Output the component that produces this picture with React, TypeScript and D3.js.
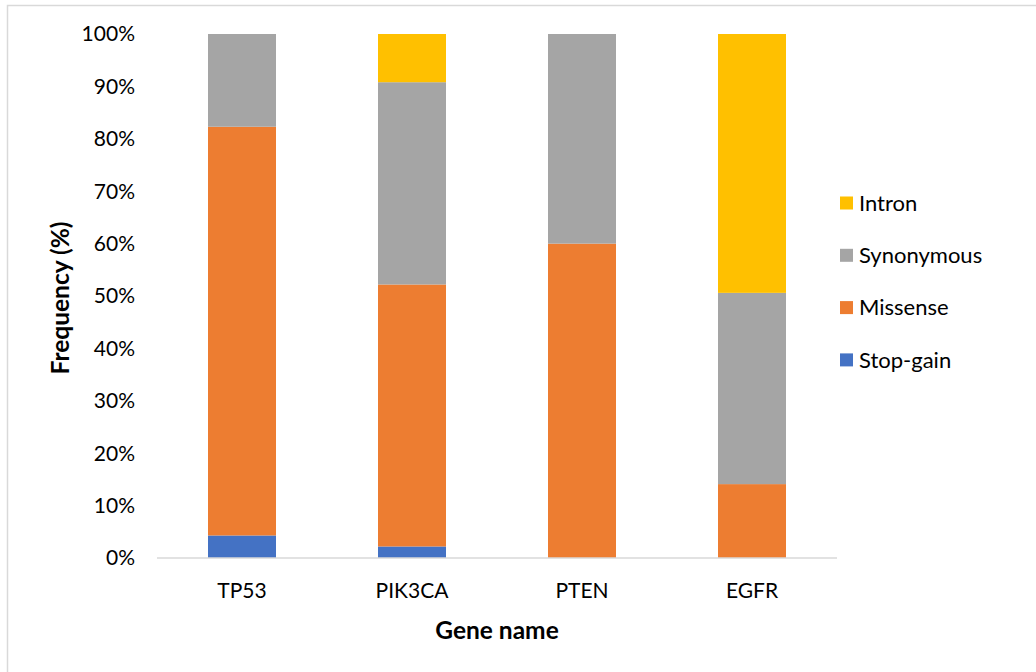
import React from "react";
import * as d3 from "d3";

// Genes on the x axis
const genes = ["TP53", "PIK3CA", "PTEN", "EGFR"];
// Variant classes, stacked bottom to top
const variantTypes = ["Stop-gain", "Missense", "Synonymous", "Intron"];
// Percentages per gene, one array per variant class
const stopGain = [4.3, 2.2, 0, 0];
const missense = [78.0, 50.0, 60.0, 14.1];
const synonymous = [17.7, 38.6, 40.0, 36.5];
const intron = [0, 9.2, 0, 49.4];
const yTicks = [0, 10, 20, 30, 40, 50, 60, 70, 80, 90, 100];

const colors: Record<string, string> = {
  "Stop-gain": "#4472c4",
  Missense: "#ed7d31",
  Synonymous: "#a5a5a5",
  Intron: "#ffc000",
};

const W = 1036;
const H = 672;
const FONT = "Lato, 'Open Sans', sans-serif";

export default function App() {
  const rows = genes.map((g, i) => ({
    gene: g,
    "Stop-gain": stopGain[i],
    Missense: missense[i],
    Synonymous: synonymous[i],
    Intron: intron[i],
  }));
  const series = d3.stack<any>().keys(variantTypes)(rows);

  const x = d3.scaleBand<string>().domain(genes).range([157, 837]).paddingInner(0.6).paddingOuter(0.3);
  const y = d3.scaleLinear().domain([0, 100]).range([558, 34]);

  const legendOrder = [...variantTypes].reverse();

  return (
    <svg
      width={W}
      height={H}
      style={{ position: "absolute", left: 0, top: 0, display: "block", background: "#fff" }}
      fontFamily={FONT}
    >
      <rect x={7.5} y={5.5} width={W + 10} height={H + 10} fill="#fff" stroke="#d9d9d9" strokeWidth={1.5} />

      {series.map((s) => (
        <g key={s.key} fill={colors[s.key]}>
          {s.map((d, i) =>
            d[1] - d[0] > 0 ? (
              <rect
                key={i}
                x={x(genes[i])}
                width={x.bandwidth()}
                y={y(d[1])}
                height={y(d[0]) - y(d[1])}
              />
            ) : null
          )}
        </g>
      ))}

      <line x1={157} x2={837} y1={y(0)} y2={y(0)} stroke="#d9d9d9" strokeWidth={1.5} />

      {yTicks.map((t) => (
        <text key={t} x={135} y={y(t)} dy="0.35em" textAnchor="end" fontSize={21} fill="#000">
          {t}%
        </text>
      ))}

      {genes.map((g) => (
        <text key={g} x={x(g)! + x.bandwidth() / 2} y={591} dy="0.35em" textAnchor="middle" fontSize={21} fill="#000">
          {g}
        </text>
      ))}

      <text x={497} y={630} dy="0.35em" textAnchor="middle" fontSize={24.5} fontWeight="bold" fill="#000">
        Gene name
      </text>
      <text
        transform={`translate(60,298) rotate(-90)`}
        dy="0.35em"
        textAnchor="middle"
        fontSize={24.5}
        fontWeight="bold"
        fill="#000"
      >
        Frequency (%)
      </text>

      {legendOrder.map((k, i) => (
        <g key={k} transform={`translate(840,${203 + i * 52.3})`}>
          <rect x={0} y={-6.5} width={13} height={13} fill={colors[k]} />
          <text x={19} y={0} dy="0.35em" fontSize={22} fill="#000">
            {k}
          </text>
        </g>
      ))}
    </svg>
  );
}
